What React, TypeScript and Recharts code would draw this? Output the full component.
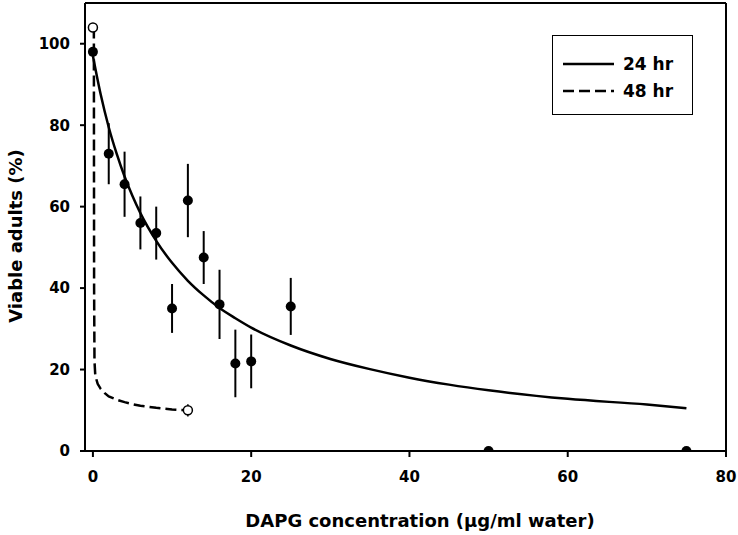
import React from "react";
import {
  ComposedChart,
  Line,
  Scatter,
  ErrorBar,
  XAxis,
  YAxis,
  ReferenceLine,
} from "recharts";

// observed means (24 hr, filled) with error bars
const obsX = [0, 2, 4, 6, 8, 10, 12, 14, 16, 18, 20, 25, 50, 75];
const obsY = [98, 73, 65.5, 56, 53.5, 35, 61.5, 47.5, 36, 21.5, 22, 35.5, 0, 0];
const obsErr = [0, 7.5, 8, 6.5, 6.5, 6, 9, 6.5, 8.5, 8.3, 6.6, 7, 0, 0];

// 48 hr open points
const openX = [0, 12];
const openY = [104, 10];
const openErr = [0, 1.5];

// fitted curves
const fit24X = [0, 1, 2, 3, 4, 5, 6, 8, 10, 12, 14, 16, 18, 20, 25, 30, 35, 40, 45, 50, 60, 70, 75];
const fit24Y = [97, 87.4, 79.5, 73, 67.4, 62.6, 58.4, 51.6, 46.2, 41.8, 38.2, 35.1, 32.6, 30.3, 25.9, 22.6, 20.1, 18, 16.3, 14.9, 12.8, 11.4, 10.5];
const fit48X = [0.12, 0.15, 0.2, 0.3, 0.6, 1, 1.5, 2, 3, 4, 5, 6, 8, 10, 12];
const fit48Y = [104, 40, 22, 18.5, 16.5, 15.2, 14.2, 13.4, 12.6, 12, 11.5, 11.1, 10.6, 10.2, 10];

const xTicks = [0, 20, 40, 60, 80];
const yTicks = [0, 20, 40, 60, 80, 100];
const legendItems = [
  { name: "24 hr", dash: undefined },
  { name: "48 hr", dash: "11 5" },
];

const obsData = obsX.map((x, i) => ({ x, y: obsY[i], err: obsErr[i] }));
const openData = openX.map((x, i) => ({ x, y: openY[i], err: openErr[i] }));
const fit24 = fit24X.map((x, i) => ({ x, y: fit24Y[i] }));
const fit48 = fit48X.map((x, i) => ({ x, y: fit48Y[i] }));

const FONT = "DejaVu Sans";
const tickStyle = { fill: "#000", fontSize: 15, fontWeight: "bold", fontFamily: FONT };

function LegendBox() {
  return (
    <div
      style={{
        position: "absolute",
        left: 552,
        top: 35,
        border: "1px solid #000",
        width: 141,
        height: 80,
        boxSizing: "border-box",
        background: "#fff",
        paddingTop: 14,
      }}
    >
      {legendItems.map((it) => (
        <div key={it.name} style={{ display: "flex", alignItems: "center", height: 27 }}>
          <svg width={60} height={10} style={{ marginLeft: 10 }}>
            <line x1={0} y1={5} x2={51} y2={5} stroke="#000" strokeWidth={2.5} strokeDasharray={it.dash} />
          </svg>
          <span style={{ fontFamily: FONT, fontWeight: "bold", fontSize: 17 }}>{it.name}</span>
        </div>
      ))}
    </div>
  );
}

export default function App() {
  return (
    <div style={{ position: "absolute", left: 0, top: 0, width: 738, height: 535, background: "#fff" }}>
      <ComposedChart width={738} height={535} margin={{ top: 3, right: 12, bottom: 0, left: 0 }}>
        <XAxis
          type="number"
          dataKey="x"
          domain={[-1, 80]}
          ticks={xTicks}
          allowDataOverflow
          height={84}
          tickSize={6}
          tickMargin={14}
          tick={tickStyle}
          axisLine={{ stroke: "#000", strokeWidth: 2 }}
          tickLine={{ stroke: "#000", strokeWidth: 2 }}
          label={{
            content: () => (
              <text x={420} y={527} textAnchor="middle" fontFamily={FONT} fontWeight="bold" fontSize={18} fill="#000">
                DAPG concentration (µg/ml water)
              </text>
            ),
          }}
        />
        <YAxis
          type="number"
          domain={[0, 110]}
          ticks={yTicks}
          allowDataOverflow
          width={85}
          tickSize={5}
          tickMargin={10}
          tick={tickStyle}
          axisLine={{ stroke: "#000", strokeWidth: 2 }}
          tickLine={{ stroke: "#000", strokeWidth: 2 }}
          label={{
            content: () => (
              <text
                x={22}
                y={236}
                transform="rotate(-90 22 236)"
                textAnchor="middle"
                fontFamily={FONT}
                fontWeight="bold"
                fontSize={18}
                fill="#000"
              >
                Viable adults (%)
              </text>
            ),
          }}
        />
        <ReferenceLine y={110} stroke="#000" strokeWidth={2} />
        <ReferenceLine x={80} stroke="#000" strokeWidth={2} />
        <Line data={fit24} dataKey="y" type="monotone" stroke="#000" strokeWidth={2.5} dot={false} isAnimationActive={false} name="24 hr" />
        <Line data={fit48} dataKey="y" type="linear" stroke="#000" strokeWidth={2.5} strokeDasharray="11 5" dot={false} isAnimationActive={false} name="48 hr" />
        <Scatter data={obsData} dataKey="y" fill="#000" isAnimationActive={false} shape={(p: any) => <circle cx={p.cx} cy={p.cy} r={5} fill="#000" />}>
          <ErrorBar dataKey="err" direction="y" width={0} stroke="#000" strokeWidth={2} isAnimationActive={false} />
        </Scatter>
        <Scatter data={openData} dataKey="y" fill="#fff" isAnimationActive={false} shape={(p: any) => <circle cx={p.cx} cy={p.cy} r={4.5} fill="#fff" stroke="#000" strokeWidth={1.5} />}>
          <ErrorBar dataKey="err" direction="y" width={0} stroke="#000" strokeWidth={1.5} isAnimationActive={false} />
        </Scatter>
      </ComposedChart>
      <LegendBox />
    </div>
  );
}
